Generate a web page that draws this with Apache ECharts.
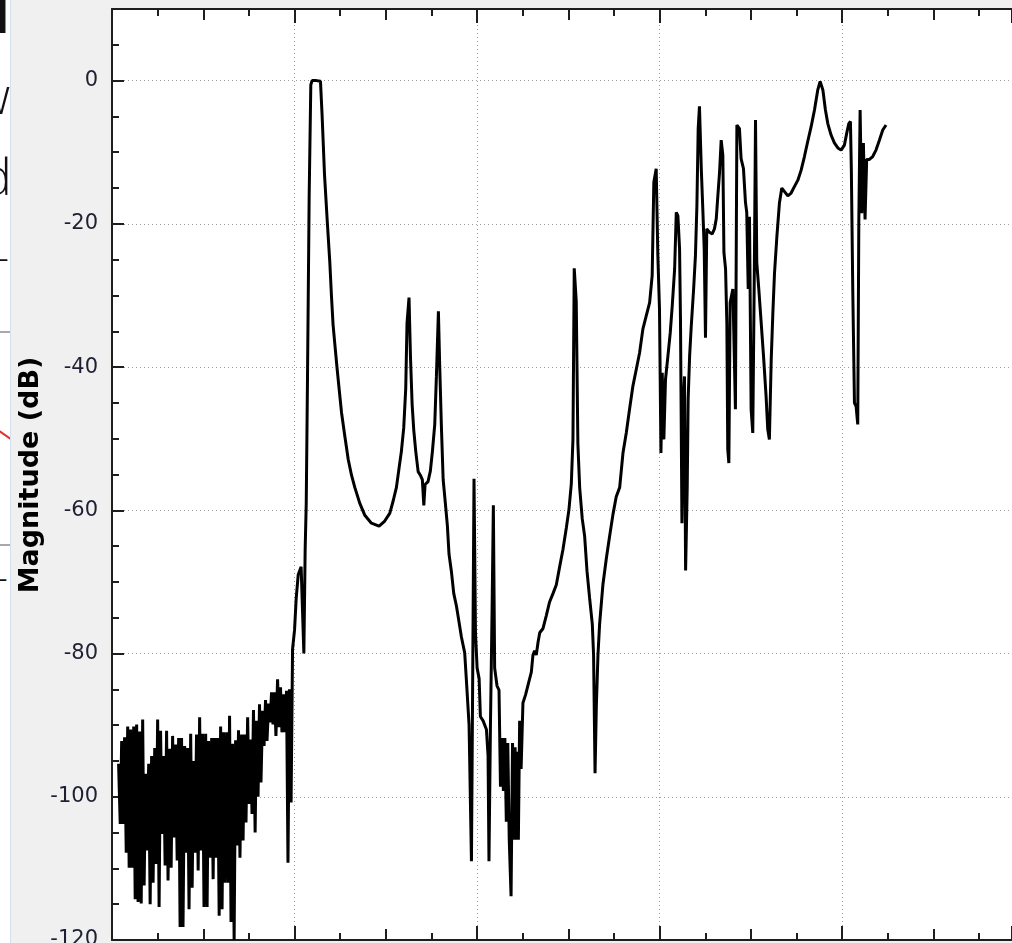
<!DOCTYPE html>
<html>
<head>
<meta charset="utf-8">
<script src="https://cdn.jsdelivr.net/npm/echarts@6/dist/echarts.min.js"></script>
<style>
html,body{margin:0;padding:0;background:#f0f0f0;overflow:hidden;width:1012px;height:943px}
#chart{position:absolute;left:0;top:0;width:1012px;height:943px}
#strip{position:absolute;left:0;top:0;width:10px;height:943px;background:#fff;overflow:hidden;border-right:1px solid #d3dfee}
#strip span{position:absolute;white-space:nowrap;line-height:1;font-family:"Open Sans","DejaVu Sans",sans-serif;color:#111}
#strip div{position:absolute}
</style>
</head>
<body>
<div id="chart"></div>
<div id="strip">
  <span style="left:-6px;top:-4px;font-size:44px;font-weight:bold;font-family:'DejaVu Sans'">l</span>
  <span style="left:-26px;top:70px;font-size:50px;font-weight:300">w</span>
  <span style="left:-18px;top:151px;font-size:50px;font-weight:300">d</span>
  <span style="left:-4px;top:236px;font-size:40px;font-weight:300">-</span>
  <div style="left:0;top:331px;width:10px;height:2px;background:#a8a8a8"></div>
  <div style="left:-2px;top:434px;width:14px;height:2px;background:#e03030;transform:rotate(35deg)"></div>
  <div style="left:0;top:544px;width:10px;height:2px;background:#a8a8a8"></div>
  <span style="left:-5px;top:556px;font-size:40px;font-weight:300">-</span>
</div>
<script>
// Frequency (Hz) of each sample and its magnitude (dB)
const freqHz = [
  36,45,53,61,69,78,86,94,102,110,119,127,135,143,151,160,168,176,184,192,
  201,209,217,225,234,242,250,258,266,274,283,291,299,307,316,324,332,340,348,357,
  365,373,381,389,398,406,414,422,431,439,447,455,463,472,480,488,496,504,513,521,
  529,537,546,554,562,570,578,587,595,603,611,619,628,636,644,652,660,669,677,685,
  693,701,710,718,726,734,743,751,759,767,775,784,792,800,808,816,825,833,841,849,
  858,866,874,882,890,898,907,915,923,931,940,948,956,964,972,981,
  989,1000,1009,1020,1036,1051,1058,1064,1071,1080,1089,1096,1120,1142,1151,1164,1180,1193,1202,1211,
  1221,1233,1244,1257,1275,1294,1312,1330,1357,1385,1421,1463,1494,1522,1540,1558,1573,1585,1598,1609,
  1616,1627,1635,1644,1653,1664,1677,1689,1700,1708,1715,1731,1744,1755,1768,1777,1788,1795,1804,1814,
  1826,1837,1846,1859,1872,1887,1899,1914,1932,1941,1956,1969,1976,1983,1991,2000,2011,2018,2033,2051,
  2060,2065,2073,2082,2089,2096,2109,2120,2128,2136,2144,2152,2160,2168,2176,2186,2194,2200,2208,2214,
  2220,2226,2233,2241,2251,2266,2284,2297,2306,2315,2324,2334,2343,2361,2379,2397,2416,2434,2452,2470,
  2489,2503,2516,2525,2532,2543,2552,2562,2576,2589,2602,2616,2631,2638,2646,2653,2662,2671,2689,2708,
  2726,2744,2762,2781,2799,2817,2835,2853,2872,2890,2908,2926,2945,2959,2968,2981,2990,2999,3007,3014,
  3023,3032,3045,3058,3069,3082,3091,3100,3109,3114,3122,3131,3136,3142,3151,3156,3164,3173,3186,3196,
  3204,3211,3218,3228,3237,3244,3251,3258,3273,3288,3300,3310,3319,3328,3337,3346,3352,3361,3368,3373,
  3379,3386,3401,3410,3415,3423,3437,3446,3459,3470,3477,3485,3492,3501,3510,3519,3525,3532,3543,3556,
  3569,3583,3592,3601,3611,3620,3629,3642,3656,3669,3684,3702,3720,3738,3757,3775,3793,3811,3830,3848,
  3866,3879,3894,3908,3921,3939,3957,3976,3994,4012,4025,4036,4045,4050,4058,4067,4076,4085,4091,4098,
  4107,4116,4125,4134,4149,4167,4185,4204,4222,4240
];
const magDb = [
  -95.4,-103.8,-92.2,-103.8,-91.7,-107.8,-90.2,-109.9,-90.6,-109.9,-90.2,-114.3,-89.9,-114.7,-90.9,-114.9,-89.2,-112.4,-96.8,-107.5,
  -95.4,-115.0,-94.3,-112.0,-93.2,-109.4,-89.2,-115.4,-90.8,-105.2,-94.3,-109.6,-90.8,-111.7,-93.3,-109.9,-91.5,-105.7,-92.7,-108.9,
  -91.8,-118.2,-91.8,-118.2,-92.9,-107.8,-93.2,-115.7,-91.2,-112.7,-95.0,-107.8,-91.3,-110.3,-88.9,-107.5,-91.2,-115.4,-91.2,-115.4,
  -92.2,-108.5,-91.8,-111.5,-91.8,-108.5,-91.8,-116.6,-90.2,-115.7,-91.0,-112.0,-91.0,-112.0,-88.7,-117.5,-92.6,-120.0,-92.1,-106.8,
  -90.7,-108.5,-91.3,-106.1,-91.3,-103.6,-88.9,-101.0,-92.0,-102.4,-87.9,-105.0,-89.4,-100.0,-87.1,-98.0,-88.0,-92.9,-86.5,-92.2,
  -87.0,-89.6,-85.4,-89.9,-85.4,-91.5,-83.6,-90.3,-84.7,-91.0,-85.7,-91.0,-85.2,-109.2,-85.0,-100.8,
  -79.4,-76.7,-72.3,-69.0,-67.9,-80.0,-65.6,-59.0,-41.3,-16.2,-0.6,0.0,0.0,-0.1,-4.9,-13.1,-20.0,-25.3,-30.0,-34.1,
  -36.9,-40.2,-43.0,-46.3,-49.6,-52.9,-55.1,-56.8,-59.0,-60.7,-61.8,-62.2,-61.5,-60.4,-58.7,-56.8,-54.0,-51.8,-48.5,-43.0,
  -33.9,-30.3,-38.6,-45.2,-48.8,-51.8,-54.6,-55.1,-55.7,-59.3,-56.4,-56.0,-54.5,-51.8,-48.0,-41.3,-32.2,-39.7,-48.0,-55.7,
  -59.0,-62.1,-66.1,-68.5,-71.6,-73.4,-75.3,-77.7,-79.9,-83.6,-90.0,-109.0,-82.6,-55.6,-77.1,-82.0,-83.5,-88.8,-89.4,-90.6,
  -94.3,-109.0,-90.0,-74.0,-59.3,-82.0,-84.5,-85.1,-98.6,-91.8,-99.2,-91.8,-103.5,-92.5,-106.0,-113.9,-92.5,-106.0,-93.1,-106.0,
  -93.7,-106.0,-89.4,-96.1,-86.9,-85.7,-83.9,-82.6,-80.2,-79.6,-80.2,-78.4,-77.1,-76.5,-74.7,-72.8,-71.6,-70.4,-67.9,-65.5,
  -62.4,-59.9,-56.3,-50.1,-26.2,-30.8,-50.7,-56.9,-61.2,-63.6,-68.5,-72.2,-75.9,-80.2,-96.7,-87.5,-80.2,-75.9,-70.4,-66.7,
  -63.6,-60.6,-58.1,-56.8,-52.0,-49.2,-45.9,-42.7,-40.3,-38.0,-34.7,-32.9,-31.0,-27.2,-14.2,-12.3,-24.4,-31.9,-52.0,-40.8,
  -50.1,-41.7,-38.5,-35.2,-31.4,-26.3,-18.4,-18.9,-23.5,-33.3,-61.8,-44.0,-41.3,-68.4,-56.7,-44.5,-38.5,-34.3,-29.1,-24.4,
  -17.4,-6.7,-3.6,-12.3,-18.4,-23.5,-35.9,-20.7,-21.2,-21.4,-20.7,-19.3,-16.0,-12.8,-8.3,-10.4,-24.0,-26.3,-33.8,-51.5,
  -53.4,-31.0,-29.1,-29.3,-45.9,-6.2,-6.7,-10.9,-12.3,-17.0,-18.4,-29.1,-19.0,-45.9,-49.2,-25.4,-5.5,-25.4,-29.1,-33.8,
  -38.5,-44.1,-48.7,-50.1,-39.0,-32.5,-26.9,-21.8,-17.1,-15.0,-15.5,-16.1,-15.7,-14.8,-13.9,-12.5,-10.6,-8.5,-6.4,-4.1,
  -1.3,-0.1,-1.3,-4.1,-6.0,-7.6,-8.7,-9.4,-9.7,-9.0,-7.3,-6.0,-5.7,-12.5,-29.7,-45.0,-45.5,-48.0,-19.4,-4.1,
  -18.5,-8.7,-19.4,-11.0,-11.0,-10.6,-9.7,-8.3,-6.9,-6.2
];
// Labelled magnitude ticks
const yTickLabels = [-120, -100, -80, -60, -40, -20, 0];
const xRange = [0, 4930];
const yRange = [-120, 10];

const seriesData = freqHz.map((f, i) => [f, magDb[i]]);

const ink = '#1e1e1e';
const labelColor = '#1f1f33';
const dotted = { color: '#9c9c9c', width: 1, type: [1, 3] };

function xAx(pos, interval, len, main) {
  return {
    type: 'value', position: pos, min: xRange[0], max: xRange[1], interval: interval,
    axisLine: { show: main, onZero: false, lineStyle: { color: ink, width: 2 } },
    axisTick: { show: true, inside: true, length: len, lineStyle: { color: ink, width: 2 } },
    minorTick: { show: main, splitNumber: 4, length: 7, lineStyle: { color: ink, width: 2 } },
    splitLine: { show: main && pos === 'bottom', lineStyle: dotted },
    axisLabel: { show: false }
  };
}

const chart = echarts.init(document.getElementById('chart'), null, { renderer: 'canvas' });
chart.setOption({
  backgroundColor: '#f0f0f0',
  animation: false,
  grid: { left: 112, right: 0, top: 9, bottom: 3, show: true, backgroundColor: '#ffffff', borderWidth: 0 },
  xAxis: [
    xAx('bottom', 1000, 14, true),
    xAx('bottom', 500, 11, false),
    xAx('top', 1000, 14, true),
    xAx('top', 500, 11, false)
  ],
  yAxis: {
    type: 'value', min: yRange[0], max: yRange[1], interval: 20,
    axisLine: { show: true, lineStyle: { color: ink, width: 2 } },
    axisTick: { show: true, inside: true, length: 12, lineStyle: { color: ink, width: 2 } },
    minorTick: { show: true, splitNumber: 4, length: 7, lineStyle: { color: ink, width: 2 } },
    splitLine: { show: true, lineStyle: dotted },
    axisLabel: {
      color: labelColor, fontSize: 21, fontFamily: 'DejaVu Sans', margin: 14,
      showMaxLabel: false, showMinLabel: false,
      formatter: v => (yTickLabels.indexOf(v) >= 0 ? String(v) : '')
    }
  },
  series: [{
    type: 'line', xAxisIndex: 0, yAxisIndex: 0, data: seriesData,
    symbol: 'none', showSymbol: false, sampling: null, clip: true,
    lineStyle: { color: '#000', width: 3, join: 'bevel' },
    z: 5
  }]
});

// The lowest tick label sits on the bottom edge and is cut by the window, as in the reference
const minTickY = chart.convertToPixel({ yAxisIndex: 0 }, yTickLabels[0]);
const axisX = chart.convertToPixel({ xAxisIndex: 0 }, xRange[0]);
chart.setOption({
  graphic: [
    {
      type: 'text', x: 31, y: 475, rotation: Math.PI / 2,
      style: { text: 'Magnitude (dB)', font: 'bold 27px "DejaVu Sans"', fill: '#000', align: 'center', verticalAlign: 'middle' }
    },
    {
      type: 'text', x: axisX - 14, y: minTickY,
      style: { text: String(yTickLabels[0]), font: '21px "DejaVu Sans"', fill: labelColor, align: 'right', verticalAlign: 'middle' }
    }
  ]
});
</script>
</body>
</html>
